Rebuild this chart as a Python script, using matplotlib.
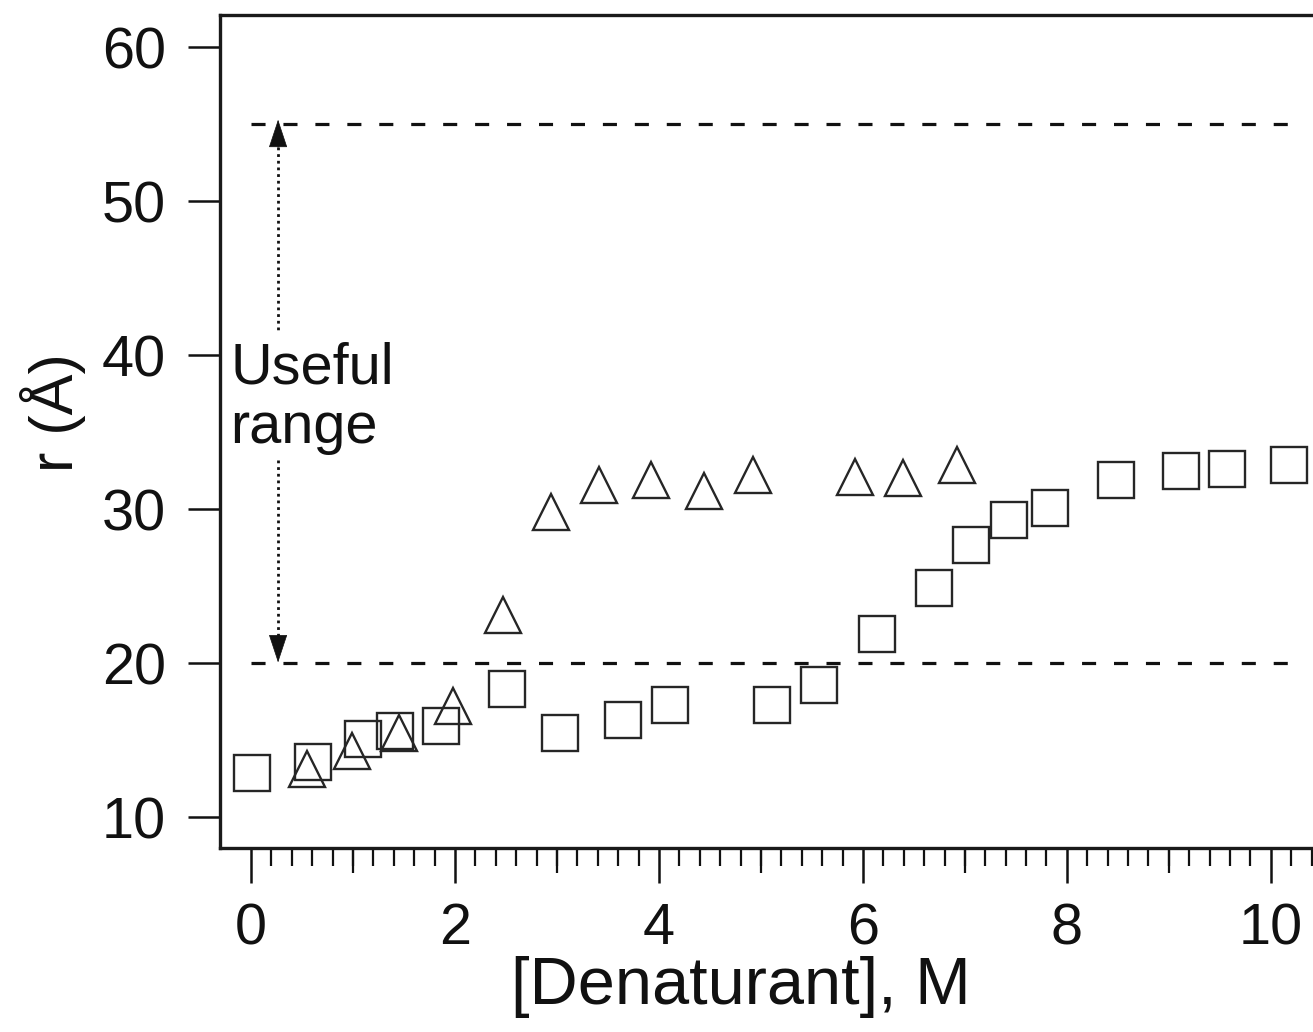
import matplotlib
matplotlib.use("Agg")
import matplotlib.pyplot as plt
from matplotlib.ticker import FixedLocator, NullFormatter

plt.rcParams['font.family'] = ['Liberation Sans', 'DejaVu Sans']

# Data
sq_x = [0.01, 0.61, 1.10, 1.41, 1.86, 2.51, 3.03, 3.65, 4.11, 5.11, 5.57, 6.14,
        6.70, 7.06, 7.43, 7.83, 8.48, 9.12, 9.57, 10.18]
sq_y = [12.9, 13.6, 15.1, 15.6, 15.9, 18.3, 15.5, 16.3, 17.3, 17.3, 18.6, 21.9,
        24.9, 27.7, 29.3, 30.1, 31.9, 32.5, 32.6, 32.9]
tri_x = [0.55, 0.99, 1.45, 1.98, 2.47, 2.94, 3.41, 3.92, 4.44, 4.92, 5.92, 6.39, 6.92]
tri_y = [13.1, 14.3, 15.5, 17.2, 23.1, 29.8, 31.6, 31.9, 31.2, 32.2, 32.1, 32.0, 32.9]

range_lo = 20
range_hi = 55
line_x = [0.0, 10.2]
arrow_x = 0.265

x_ticks = [0, 2, 4, 6, 8, 10]
mid_ticks = [1, 3, 5, 7, 9]
minor_ticks = [i / 5 for i in range(0, 53)]
y_ticks = [10, 20, 30, 40, 50, 60]

fig = plt.figure(figsize=(13.13, 10.32), dpi=100)
ax = fig.add_axes([0.1676, 0.1783, 0.8469, 0.8072])
ax.set_xlim(-0.304, 10.6)
ax.set_ylim(8.0, 62.1)

ec = '#262626'
ax.plot(sq_x, sq_y, linestyle='none', marker='s', ms=25.7, mfc='none',
        mec=ec, mew=1.7, zorder=3)
ax.plot(tri_x, tri_y, linestyle='none', marker='^', ms=25.7, mfc='none',
        mec=ec, mew=1.7, zorder=3)

# Dashed limit lines
for yv in (range_lo, range_hi):
    ax.plot(line_x, [yv, yv], color='#111111', lw=2.3,
            linestyle=(0, (4.4, 5.6)), zorder=2)

# Dotted double arrow, interrupted by text
ax.plot([arrow_x, arrow_x], [range_hi - 1.5, 41.6], color='#111111', lw=2.0,
        linestyle=(0, (1, 1.4)), zorder=2)
ax.plot([arrow_x, arrow_x], [33.2, range_lo + 1.5], color='#111111', lw=2.0,
        linestyle=(0, (1, 1.4)), zorder=2)
for tip, tail in ((range_hi + 0.3, range_hi - 1.5), (range_lo + 0.05, range_lo + 1.7)):
    ax.annotate('', xy=(arrow_x, tip), xytext=(arrow_x, tail),
                arrowprops=dict(arrowstyle='-|>,head_length=1.87,head_width=0.62',
                                mutation_scale=10, color='#111111', lw=0.5,
                                shrinkA=0, shrinkB=0), zorder=4)

ax.text(-0.206, 38.18, 'Useful', fontsize=41.5, ha='left', va='baseline', color='#111111')
ax.text(-0.206, 34.29, 'range', fontsize=41.5, ha='left', va='baseline', color='#111111')

# Axes styling
for side in ('left', 'bottom', 'top', 'right'):
    ax.spines[side].set_linewidth(2.4)
    ax.spines[side].set_color('#1a1a1a')

ax.set_xticks(x_ticks)
ax.set_yticks(y_ticks)
ax.xaxis.set_minor_locator(FixedLocator(minor_ticks))
ax.xaxis.set_minor_formatter(NullFormatter())
ax.tick_params(axis='x', which='major', direction='out', length=25, width=1.8,
               pad=14, labelsize=41.5, colors='#111111')
ax.tick_params(axis='x', which='minor', direction='out', length=13, width=1.6,
               colors='#111111')
ax.tick_params(axis='y', which='major', direction='out', length=23, width=1.8,
               pad=16, labelsize=41.5, colors='#111111')
ax.tick_params(top=False, right=False)

sec = ax.secondary_xaxis('bottom')
sec.set_xticks(mid_ticks)
sec.set_xticklabels([])
sec.tick_params(axis='x', direction='out', length=18, width=1.6, colors='#111111')
sec.spines['bottom'].set_visible(False)

ax.set_xlabel('[Denaturant], M', fontsize=48, color='#111111')
ax.xaxis.set_label_coords(0.4685, -0.130)
ax.set_ylabel('r (Å)', fontsize=44, color='#111111')
ax.yaxis.set_label_coords(-0.1205, 0.523)

fig.savefig('out.png', dpi=100)
